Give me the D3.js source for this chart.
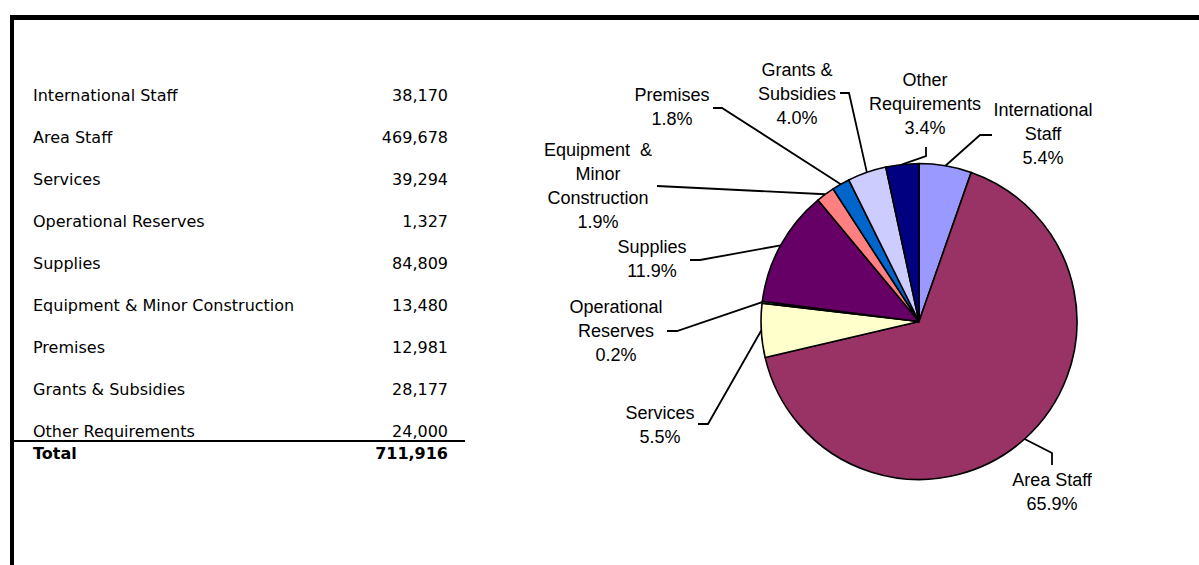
<!DOCTYPE html>
<html><head><meta charset="utf-8">
<script src="https://cdn.jsdelivr.net/npm/d3@7"></script>
<style>body{margin:0;background:#fff;overflow:hidden}</style>
</head><body><svg id="c" width="1199" height="565"></svg>
<script>
// ---- data ----
const categories = ["International Staff","Area Staff","Services","Operational Reserves","Supplies","Equipment & Minor Construction","Premises","Grants & Subsidies","Other Requirements"];
const values = [38170,469678,39294,1327,84809,13480,12981,28177,24000];
const totalLabel = "Total";
const totalValue = 711916;
const pieLabelLines = [["International","Staff"],["Area Staff"],["Services"],["Operational","Reserves"],["Supplies"],["Equipment  &","Minor","Construction"],["Premises"],["Grants &","Subsidies"],["Other","Requirements"]];
const pieLabelPercents = ["5.4%","65.9%","5.5%","0.2%","11.9%","1.9%","1.8%","4.0%","3.4%"];
const colors = ["#9999FF","#993366","#FFFFCC","#CCFFFF","#660066","#FF8080","#0066CC","#CCCCFF","#000080"];

// ---- layout (label anchors and leader elbows, pixels) ----
const labelLayout = [
  {x:1043, y:110, pts:[[980,135],[992,135]]},
  {x:1052, y:480, pts:[[1052,453],[1052,465]]},
  {x:660,  y:413, pts:[[708,424],[698,424]]},
  {x:616,  y:307, pts:[[677,331],[667,331]]},
  {x:652,  y:247, pts:[[700,260],[690,260]]},
  {x:598,  y:150, pts:[[657,186]]},
  {x:672,  y:95,  pts:[[722,108],[713,108]]},
  {x:797,  y:70,  pts:[[849,93],[840,93]]},
  {x:925,  y:80,  pts:[[926,156],[926,147]]}
];

const svg = d3.select("#c");
svg.append("rect").attr("width",1199).attr("height",565).attr("fill","#fff");

// frame
svg.append("line").attr("x1",10).attr("x2",1199).attr("y1",17.5).attr("y2",17.5).attr("stroke","#000").attr("stroke-width",5);
svg.append("line").attr("x1",12).attr("x2",12).attr("y1",15).attr("y2",565).attr("stroke","#000").attr("stroke-width",4);

// ---- table ----
const fmt = d3.format(",");
const rowY = d3.scalePoint().domain(categories).range([95,431]);
const tfont = "'DejaVu Sans', Tahoma, Verdana, sans-serif";
const rows = svg.append("g").attr("font-family",tfont).attr("font-size",16).attr("fill","#000");
rows.selectAll("text.lab").data(categories).join("text").attr("class","lab")
  .attr("x",33).attr("y",d=>rowY(d)).attr("dy","0.36em").text(d=>d);
rows.selectAll("text.val").data(values).join("text").attr("class","val")
  .attr("x",448).attr("y",(d,i)=>rowY(categories[i])).attr("dy","0.36em").attr("text-anchor","end").text(d=>fmt(d));
svg.append("line").attr("x1",10).attr("x2",465).attr("y1",441).attr("y2",441).attr("stroke","#000").attr("stroke-width",2);
const totY = rowY(categories[categories.length-1]) + 22;
rows.append("text").attr("x",33).attr("y",totY).attr("dy","0.36em").attr("font-weight","bold").text(totalLabel);
rows.append("text").attr("x",448).attr("y",totY).attr("dy","0.36em").attr("font-weight","bold").attr("text-anchor","end").text(fmt(totalValue));

// ---- pie ----
const cx = 919, cy = 321.5, r = 158;
const pie = d3.pie().sort(null).value(d=>d);
const arcs = pie(values);
const arc = d3.arc().innerRadius(0).outerRadius(r);
const edge = d3.arc().innerRadius(r).outerRadius(r);
const g = svg.append("g").attr("transform",`translate(${cx},${cy})`);
g.selectAll("path").data(arcs).join("path")
  .attr("d",arc).attr("fill",(d,i)=>colors[i])
  .attr("stroke","#000").attr("stroke-width",1.6).attr("stroke-linejoin","round");

// leader lines
const line = d3.line();
svg.append("g").selectAll("path").data(arcs).join("path")
  .attr("d",(d,i)=>{
    const c = edge.centroid(d);
    return line([[c[0]+cx,c[1]+cy], ...labelLayout[i].pts]);
  })
  .attr("fill","none").attr("stroke","#000").attr("stroke-width",1.8);

// labels
const lg = svg.append("g").attr("font-family","'Liberation Sans', Arial, sans-serif").attr("font-size",18).attr("fill","#000").attr("text-anchor","middle");
const lh = 24;
labelLayout.forEach((L,i)=>{
  const t = lg.append("text").attr("x",L.x).attr("y",L.y).attr("dy","0.36em");
  const lines = pieLabelLines[i].concat([pieLabelPercents[i]]);
  lines.forEach((s,j)=>{
    t.append("tspan").attr("x",L.x).attr("y",L.y + j*lh).attr("dy","0.36em").style("white-space","pre").text(s);
  });
});
</script>
</body></html>
